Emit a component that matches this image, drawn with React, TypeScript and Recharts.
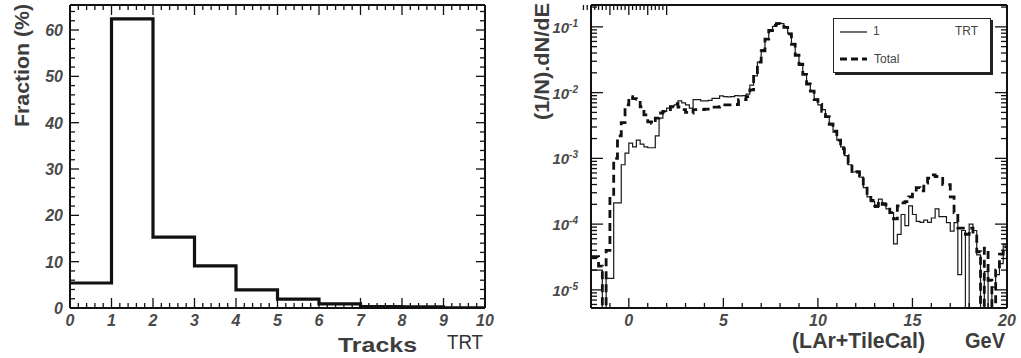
import React from 'react';
import { LineChart, Line, XAxis, YAxis, Legend } from 'recharts';

// ---------------- Left panel: fraction of events vs number of TRT tracks ----------------
const trackCounts = [0, 1, 2, 3, 4, 5, 6, 7, 8, 9];
const trackFraction = [5.4, 62.4, 15.3, 9.1, 3.9, 1.9, 0.9, 0.3, 0.25, 0.05];
const trackAxisEnd = 10;
const trackMajorTicks = [0, 1, 2, 3, 4, 5, 6, 7, 8, 9, 10];
const fractionMajorTicks = [0, 10, 20, 30, 40, 50, 60];

// ---------------- Right panel: (1/N) dN/dE vs LAr+TileCal energy ----------------
const EMPTY = 1e-9; // empty bin (drawn to the bottom of the log axis)
const energyStart = -2;
const energyBinWidth = 0.2;
const energyEnd = 20;
const oneTrackTRT = [
  2e-5, 2e-5, 2e-5, EMPTY, 1.5e-5, 1.5e-5, 2.1e-4, 2.1e-4, 8e-4, 1.2e-3,
  1.7e-3, 1.5e-3, 1.9e-3, 1.65e-3, 1.5e-3, 1.45e-3, 1.45e-3, 2.2e-3, 4.1e-3, 5.2e-3,
  5.8e-3, 6.2e-3, 6.5e-3, 7.5e-3, 7.0e-3, 6.5e-3, 5.8e-3, 7.8e-3, 7.8e-3, 7.5e-3,
  7.5e-3, 7.6e-3, 8.2e-3, 8.2e-3, 8.9e-3, 8.7e-3, 8.6e-3, 8.7e-3, 9.0e-3, 8.9e-3,
  9.0e-3, 9.5e-3, 1.3e-2, 1.8e-2, 2.9e-2, 4.5e-2, 6.5e-2, 8.5e-2, 0.102, 0.114,
  0.112, 0.1, 0.08, 0.056, 0.038, 0.026, 0.019, 0.014, 0.0105, 0.008,
  0.0065, 0.0055, 0.0042, 0.0034, 0.0025, 0.0019, 0.0015, 0.0011, 8e-4, 6.2e-4,
  6.4e-4, 5.2e-4, 3.6e-4, 2.6e-4, 2.2e-4, 1.8e-4, 2.4e-4, 2.1e-4, 1.7e-4, 1.5e-4,
  5e-5, 7e-5, 1.4e-4, 9.5e-5, 1.9e-4, 1.4e-4, 1.1e-4, 1.06e-4, 1.15e-4, 1.06e-4,
  1.24e-4, 1.7e-4, 1.3e-4, 1.3e-4, 1.05e-4, 7.8e-5, 1.05e-4, 1.7e-5, 8e-5, EMPTY,
  1e-4, 8e-5, 3.4e-5, EMPTY, 1.9e-5, EMPTY, 1.1e-5, 1.7e-5, 2.5e-5, 4.9e-5,
];
const totalEnergy = [
  3.2e-5, 3.2e-5, 2.3e-5, EMPTY, 4e-5, 2.6e-4, 1e-3, 2.2e-3, 3.5e-3, 6.5e-3,
  8.7e-3, 8.1e-3, 8.0e-3, 6.1e-3, 4.6e-3, 3.6e-3, 3.4e-3, 4.1e-3, 4.9e-3, 5.2e-3,
  5.5e-3, 6.1e-3, 6.8e-3, 6.0e-3, 5.5e-3, 5.0e-3, 4.9e-3, 5.5e-3, 5.5e-3, 5.5e-3,
  5.6e-3, 6.0e-3, 6.0e-3, 6.0e-3, 6.1e-3, 6.5e-3, 6.5e-3, 6.5e-3, 6.6e-3, 7.8e-3,
  7.8e-3, 8.7e-3, 1.1e-2, 1.9e-2, 2.9e-2, 4.3e-2, 6.5e-2, 8.8e-2, 0.105, 0.112,
  0.11, 0.098, 0.078, 0.054, 0.037, 0.027, 0.019, 0.0135, 0.0105, 0.0078,
  0.0066, 0.0052, 0.0043, 0.0033, 0.0026, 0.0019, 0.0014, 0.0011, 8.5e-4, 6e-4,
  6.2e-4, 5.4e-4, 3.7e-4, 2.7e-4, 2.3e-4, 1.9e-4, 2.2e-4, 2.0e-4, 1.8e-4, 1.5e-4,
  1.2e-4, 1.9e-4, 2.1e-4, 2.2e-4, 2.6e-4, 3.0e-4, 3.6e-4, 3.2e-4, 4.2e-4, 5.0e-4,
  5.6e-4, 5.3e-4, 5.3e-4, 4.0e-4, 4.0e-4, 2.6e-4, 1.5e-4, 8.7e-5, 8.7e-5, 7e-5,
  8.7e-5, 7e-5, 3.8e-5, EMPTY, 4.3e-5, 1.4e-5, EMPTY, 2e-5, 3.5e-5, 4.5e-5,
];
const energyMajorTicks = [0, 5, 10, 15, 20];
const energyMinorTicks = [-2, -1, 1, 2, 3, 4, 6, 7, 8, 9, 11, 12, 13, 14, 16, 17, 18, 19];
const densityDecades = [1e-5, 1e-4, 1e-3, 1e-2, 1e-1];
const decadeExponents = ['-5', '-4', '-3', '-2', '-1'];
const densityDomain: [number, number] = [5.3e-6, 0.215];

// ---------------- derived tables ----------------
const trackData = [
  ...trackCounts.map((t, i) => ({ tracks: t, fraction: trackFraction[i] })),
  { tracks: trackAxisEnd, fraction: trackFraction[trackFraction.length - 1] },
];
const trackTicks: number[] = [];
for (let i = 0; i <= 50; i++) trackTicks.push(Math.round(i * 2) / 10);
const fractionTicks: number[] = [];
for (let v = 0; v <= 64; v += 2) fractionTicks.push(v);

const energyData = oneTrackTRT.map((v, i) => ({
  e: Math.round((energyStart + i * energyBinWidth) * 10) / 10,
  one: v,
  total: totalEnergy[i],
}));
energyData.push({ e: energyEnd, one: oneTrackTRT[oneTrackTRT.length - 1], total: totalEnergy[totalEnergy.length - 1] });
const energyTicks = [...energyMajorTicks, ...energyMinorTicks].sort((a, b) => a - b);
const densityTicks: number[] = [];
[1e-6, 1e-5, 1e-4, 1e-3, 1e-2, 1e-1].forEach((d) => {
  for (let k = 1; k <= 9; k++) {
    const v = k === 1 ? d : parseFloat((k * d).toPrecision(6));
    if (v >= densityDomain[0] && v <= densityDomain[1]) densityTicks.push(v);
  }
});

// ---------------- styling helpers ----------------
const FONT = '"Liberation Sans", Arial, Helvetica, sans-serif';
const INK = '#111';
const tickText = { fontFamily: FONT, fontWeight: 700, fontStyle: 'italic' as const, fill: '#4a4a4a' };

const isMajor = (v: number, majors: number[]) =>
  majors.some((m) => (m === 0 ? v === 0 : Math.abs(m - v) <= 1e-6 * Math.abs(m)));

type Side = 'bottom' | 'top' | 'left' | 'right';
function makeTick(
  side: Side,
  majors: number[],
  majorLen: number,
  minorLen: number,
  label?: (v: number) => React.ReactNode
) {
  return (props: any) => {
    const { x, y, payload } = props;
    const v = payload.value as number;
    const mj = isMajor(v, majors);
    const len = mj ? majorLen : minorLen;
    let line;
    if (side === 'bottom') line = <line x1={x} y1={y} x2={x} y2={y - len} />;
    else if (side === 'top') line = <line x1={x} y1={y} x2={x} y2={y + len} />;
    else if (side === 'left') line = <line x1={x} y1={y} x2={x + len} y2={y} />;
    else line = <line x1={x} y1={y} x2={x - len} y2={y} />;
    let txt: React.ReactNode = null;
    if (mj && label) {
      if (side === 'bottom')
        txt = (
          <text x={x} y={y + 18} textAnchor="middle" fontSize={16} {...tickText}>
            {label(v)}
          </text>
        );
      else if (side === 'left')
        txt = (
          <text x={x - 7} y={y + 6} textAnchor="end" fontSize={16} {...tickText}>
            {label(v)}
          </text>
        );
    }
    return (
      <g>
        <g stroke={INK} strokeWidth={1.3}>{line}</g>
        {txt}
      </g>
    );
  };
}

const logLabel = (v: number) => {
  const idx = densityDecades.findIndex((d) => Math.abs(d - v) <= 1e-6 * d);
  return (
    <>
      <tspan>10</tspan>
      <tspan dy={-6} fontSize={10}>{decadeExponents[idx]}</tspan>
    </>
  );
};
const DensityLeftTick = (props: any) => {
  const { x, y, payload } = props;
  const v = payload.value as number;
  const mj = isMajor(v, densityDecades);
  return (
    <g>
      <line x1={x} y1={y} x2={x + (mj ? 12 : 6)} y2={y} stroke={INK} strokeWidth={1.3} />
      {mj && (
        <text x={x - 13} y={y + 6} textAnchor="end" fontSize={15} {...tickText}>
          {logLabel(v)}
        </text>
      )}
    </g>
  );
};

const axisLine = { stroke: INK, strokeWidth: 2 };
const common = { tickLine: false, tickSize: 0, tickMargin: 0, interval: 0 as const, allowDataOverflow: true, axisLine };

const LegendBox = () => (
  <div
    style={{
      position: 'relative',
      width: 158,
      height: 55,
      boxSizing: 'border-box',
      border: '1.5px solid #222',
      boxShadow: '2px 2px 0 #222',
      background: '#fff',
      fontFamily: FONT,
      fontSize: 12,
      color: '#444',
    }}
  >
    <svg width={40} height={55} style={{ position: 'absolute', left: 0, top: 0 }}>
      <line x1={6} y1={13} x2={33} y2={13} stroke={INK} strokeWidth={1.2} />
      <line x1={6} y1={40} x2={33} y2={40} stroke={INK} strokeWidth={2.8} strokeDasharray="7 4" />
    </svg>
    <span style={{ position: 'absolute', left: 39, top: 5, lineHeight: '14px' }}>1</span>
    <span style={{ position: 'absolute', left: 121, top: 5, lineHeight: '14px' }}>TRT</span>
    <span style={{ position: 'absolute', left: 40, top: 33, lineHeight: '14px' }}>Total</span>
  </div>
);

export default function App() {
  return (
    <div style={{ position: 'absolute', left: 0, top: 0, width: 1021, height: 358, background: '#fff', overflow: 'hidden' }}>
      <div style={{ position: 'absolute', left: 0, top: 0 }}>
        <LineChart width={510} height={358} data={trackData} margin={{ top: 4, right: 24, bottom: 49, left: 69 }}>
          <XAxis
            xAxisId="b"
            dataKey="tracks"
            type="number"
            domain={[0, 10]}
            ticks={trackTicks}
            height={1}
            tick={makeTick('bottom', trackMajorTicks, 10, 5, (v) => String(v))}
            {...common}
          />
          <XAxis
            xAxisId="t"
            orientation="top"
            type="number"
            domain={[0, 10]}
            ticks={trackTicks}
            height={1}
            tick={makeTick('top', trackMajorTicks, 10, 5)}
            {...common}
          />
          <YAxis
            yAxisId="l"
            type="number"
            domain={[0, 65.4]}
            ticks={fractionTicks}
            width={1}
            tick={makeTick('left', fractionMajorTicks, 9, 5, (v) => String(v))}
            {...common}
          />
          <YAxis
            yAxisId="r"
            orientation="right"
            type="number"
            domain={[0, 65.4]}
            ticks={fractionTicks}
            width={1}
            tick={makeTick('right', fractionMajorTicks, 9, 5)}
            {...common}
          />
          <Line
            xAxisId="b"
            yAxisId="l"
            type="stepAfter"
            dataKey="fraction"
            stroke={INK}
            strokeWidth={3.2}
            dot={false}
            activeDot={false}
            isAnimationActive={false}
          />
        </LineChart>
      </div>

      <div style={{ position: 'absolute', left: 520, top: 0 }}>
        <LineChart width={501} height={358} data={energyData} margin={{ top: 4, right: 13, bottom: 49, left: 70 }}>
          <XAxis
            xAxisId="b"
            dataKey="e"
            type="number"
            domain={[energyStart, energyEnd]}
            ticks={energyTicks}
            height={1}
            tick={makeTick('bottom', energyMajorTicks, 10, 5, (v) => String(v))}
            {...common}
          />
          <XAxis
            xAxisId="t"
            orientation="top"
            type="number"
            domain={[energyStart, energyEnd]}
            ticks={energyTicks}
            height={1}
            tick={makeTick('top', energyMajorTicks, 10, 5)}
            {...common}
          />
          <YAxis
            yAxisId="l"
            type="number"
            scale="log"
            domain={densityDomain}
            ticks={densityTicks}
            width={1}
            tick={DensityLeftTick}
            {...common}
          />
          <YAxis
            yAxisId="r"
            orientation="right"
            type="number"
            scale="log"
            domain={densityDomain}
            ticks={densityTicks}
            width={1}
            tick={makeTick('right', densityDecades, 12, 6)}
            {...common}
          />
          <Line
            xAxisId="b"
            yAxisId="l"
            type="stepAfter"
            dataKey="one"
            name="1 TRT"
            stroke="#1a1a1a"
            strokeWidth={1.2}
            dot={false}
            activeDot={false}
            isAnimationActive={false}
          />
          <Line
            xAxisId="b"
            yAxisId="l"
            type="stepAfter"
            dataKey="total"
            name="Total"
            stroke={INK}
            strokeWidth={2.8}
            strokeDasharray="8 5"
            dot={false}
            activeDot={false}
            isAnimationActive={false}
          />
          <Legend
            layout="vertical"
            align="center"
            verticalAlign="middle"
            content={() => <LegendBox />}
            wrapperStyle={{ left: 313, top: 18, width: 158, height: 55 }}
          />
        </LineChart>
      </div>

      <svg width={1021} height={358} style={{ position: 'absolute', left: 0, top: 0, pointerEvents: 'none' }}>
        <g fontFamily={FONT} fontWeight={700} fill="#3d3d3d">
          <text x={29} y={65.5} textAnchor="middle" fontSize={21} transform="rotate(-90 29 65.5)" textLength={123} lengthAdjust="spacingAndGlyphs">
            Fraction (%)
          </text>
          <text x={338} y={352} fontSize={21} textLength={79} lengthAdjust="spacingAndGlyphs">
            Tracks
          </text>
          <text x={549} y={61.5} textAnchor="middle" fontSize={21} transform="rotate(-90 549 61.5)" textLength={117} lengthAdjust="spacingAndGlyphs">
            (1/N).dN/dE
          </text>
          <text x={792} y={348} fontSize={22} textLength={133} lengthAdjust="spacingAndGlyphs">
            (LAr+TileCal)
          </text>
          <text x={965} y={348} fontSize={22} textLength={40} lengthAdjust="spacingAndGlyphs">
            GeV
          </text>
        </g>
        <text x={447} y={349} fontFamily={FONT} fontSize={20} fill="#333" textLength={36} lengthAdjust="spacingAndGlyphs">
          TRT
        </text>
      </svg>
    </div>
  );
}
